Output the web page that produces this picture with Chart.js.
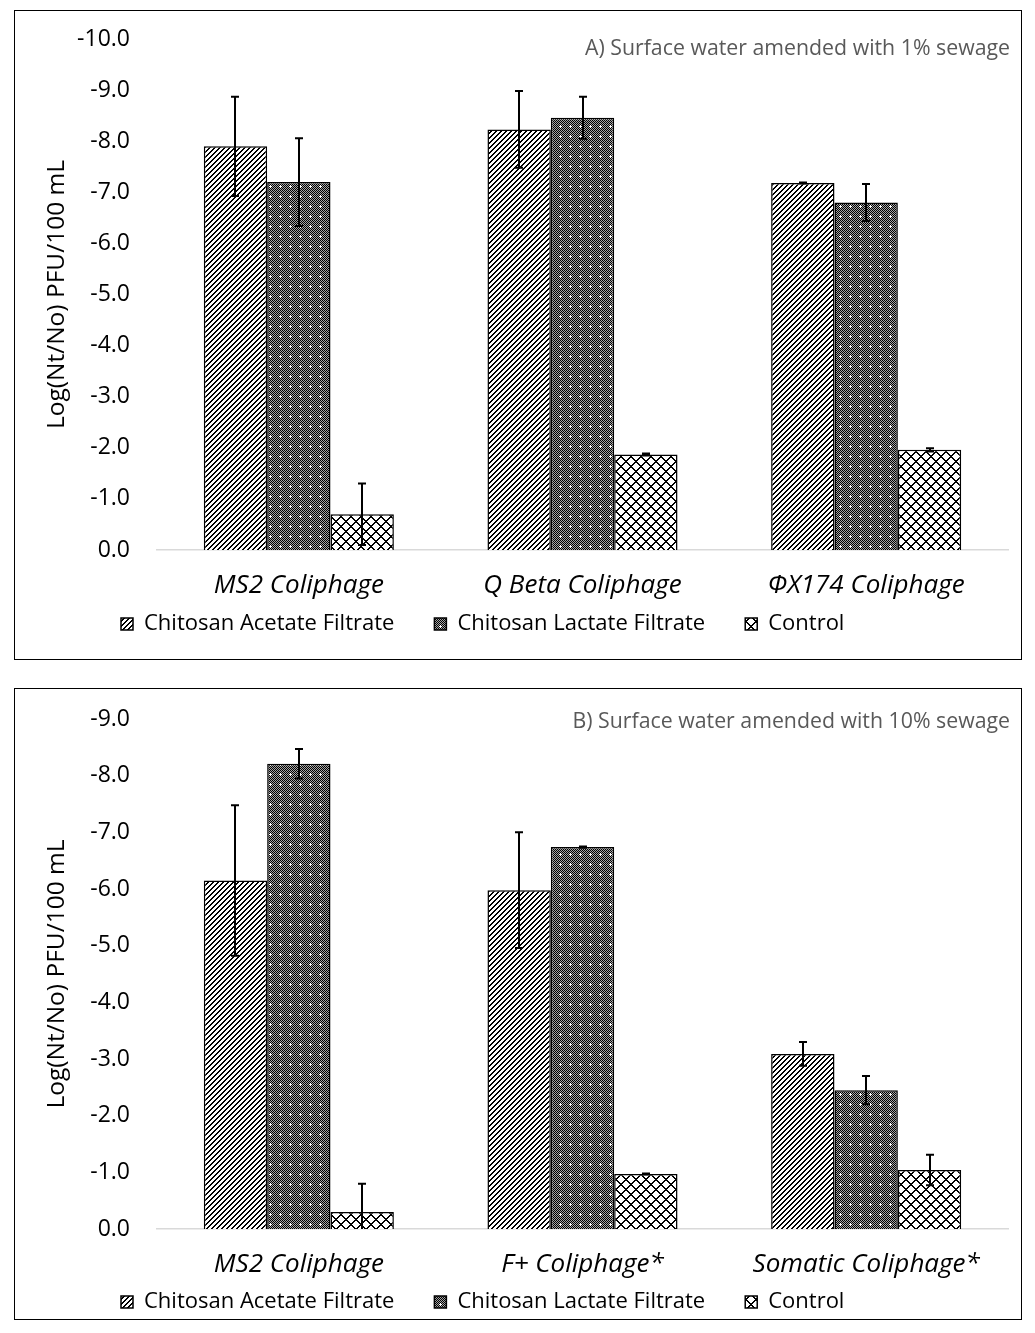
<!DOCTYPE html>
<html><head><meta charset="utf-8">
<script src="https://cdn.jsdelivr.net/npm/chart.js@4.4.0/dist/chart.umd.min.js"></script>
<style>
html,body{margin:0;padding:0;background:#fff;}
body{width:1035px;height:1333px;position:relative;overflow:hidden;font-family:"Open Sans",sans-serif;}
.box{position:absolute;left:14px;width:1008px;border:1px solid #000;box-sizing:border-box;background:#fff;}
#boxA{top:10px;height:650px;}
#boxB{top:688px;height:632px;}
.box canvas{position:absolute;left:0;top:0;}
.ttl{position:absolute;right:11px;font-size:21.3px;line-height:26px;color:#595959;white-space:nowrap;}
#tA{top:23px;}
#tB{top:18px;}
</style></head><body>
<div class="box" id="boxA"><canvas id="cA" width="1006" height="648"></canvas><div class="ttl" id="tA"></div></div>
<div class="box" id="boxB"><canvas id="cB" width="1006" height="630"></canvas><div class="ttl" id="tB"></div></div>
<script>
// ---------- data ----------
const seriesNames = ['Chitosan Acetate Filtrate', 'Chitosan Lactate Filtrate', 'Control'];
const yTitle = 'Log(Nt/No) PFU/100 mL';

const titleA = 'A) Surface water amended with 1% sewage';
const categoriesA = ['MS2 Coliphage', 'Q Beta Coliphage', 'ΦX174 Coliphage'];
const acetateA = [-7.90, -8.23, -7.18];
const acetateErrA = [0.97, 0.75, 0.01];
const lactateA = [-7.20, -8.46, -6.80];
const lactateErrA = [0.86, 0.41, 0.36];
const controlA = [-0.70, -1.87, -1.96];
const controlErrA = [0.60, 0.02, 0.03];
const yMinA = -10;

const titleB = 'B) Surface water amended with 10% sewage';
const categoriesB = ['MS2 Coliphage', 'F+ Coliphage*', 'Somatic Coliphage*'];
const acetateB = [-6.15, -5.98, -3.09];
const acetateErrB = [1.33, 1.02, 0.21];
const lactateB = [-8.21, -6.74, -2.45];
const lactateErrB = [0.26, 0.01, 0.25];
const controlB = [-0.30, -0.97, -1.04];
const controlErrB = [0.50, 0.01, 0.27];
const yMinB = -9;

// ---------- styling ----------
const FONT = '"Open Sans", sans-serif';
Chart.defaults.font.family = FONT;
Chart.defaults.color = '#000';

function makePattern(size, fn){
  const c = document.createElement('canvas'); c.width = size; c.height = size;
  const x = c.getContext('2d'); const img = x.createImageData(size, size);
  for (let j = 0; j < size; j++) for (let i = 0; i < size; i++) {
    const v = fn(i, j); const k = (j*size + i)*4;
    img.data[k] = img.data[k+1] = img.data[k+2] = v; img.data[k+3] = 255;
  }
  x.putImageData(img, 0, 0);
  return x.createPattern(c, 'repeat');
}
const patAcetate = makePattern(5, (i,j) => ((i + j) % 5 < 2) ? 0 : 255);
const patLactate = makePattern(10, (i,j) => {
  const plus = (i === 5 && j >= 4 && j <= 6) || (j === 5 && i >= 4 && i <= 6);
  if (plus) return 255;
  return ((i + j) % 2 === 0) ? 0 : 165;
});
const patControl = makePattern(10, (i,j) => {
  const d1 = ((i - j) % 10 + 10) % 10, d2 = (i + j) % 10;
  return (d1 < 2 || d2 < 2) ? 0 : 255;
});
const patterns = [patAcetate, patLactate, patControl];

const errorBarPlugin = {
  id: 'errorBars',
  afterDatasetsDraw(chart){
    const {ctx, chartArea, scales} = chart; const y = scales.y;
    ctx.save();
    ctx.beginPath();
    ctx.rect(chartArea.left, chartArea.top, chartArea.right - chartArea.left, chartArea.bottom - chartArea.top);
    ctx.clip();
    ctx.strokeStyle = '#000'; ctx.lineWidth = 2;
    chart.data.datasets.forEach((ds, i) => {
      const meta = chart.getDatasetMeta(i);
      if (meta.hidden) return;
      meta.data.forEach((bar, j) => {
        const v = ds.data[j], e = ds.errors[j];
        const y1 = y.getPixelForValue(v - e), y2 = y.getPixelForValue(v + e);
        const x = Math.round(bar.x);
        ctx.beginPath();
        ctx.moveTo(x, y1); ctx.lineTo(x, y2);
        ctx.moveTo(x - 4, y1); ctx.lineTo(x + 4, y1);
        ctx.moveTo(x - 4, y2); ctx.lineTo(x + 4, y2);
        ctx.stroke();
      });
    });
    ctx.restore();
  }
};

// fixes the legend's reserved height and places its first item
const legendPlace = {
  id: 'legendPlace',
  beforeLayout(chart, args, opts){
    const lg = chart.legend;
    if (lg && !lg.__patched){
      const origFit = lg.fit;
      lg.fit = function(){ origFit.call(this); this.height = opts.height; };
      lg.__patched = true;
    }
  },
  afterLayout(chart, args, opts){
    const lg = chart.legend; if (!lg) return;
    const p = lg.options.labels.padding;
    const dx = opts.boxX - (lg.left + p);
    lg.left += dx; lg.right += dx;
    lg.top = opts.centerY - opts.half - p;
    lg.bottom = lg.top + 2 * p + 2 * opts.half;
    lg.height = lg.bottom - lg.top;
  }
};

function makeChart(id, cats, values, errors, yMin, padTop, padBottom){
  const datasets = seriesNames.map((name, k) => ({
    label: name, data: values[k], errors: errors[k],
    backgroundColor: patterns[k], borderColor: '#000', borderWidth: 1.5,
    categoryPercentage: 0.67, barPercentage: 1.0
  }));
  return new Chart(document.getElementById(id), {
    type: 'bar',
    data: { labels: cats, datasets },
    options: {
      responsive: false, animation: false,
      layout: { padding: { left: 0, right: 13, top: padTop, bottom: padBottom } },
      plugins: {
        legend: { position: 'bottom', align: 'start',
          labels: { boxWidth: 12, boxHeight: 12, padding: 40, color: '#000', font: { family: FONT, size: 22 } } },
        tooltip: { enabled: false },
        legendPlace: { height: 20, boxX: 106, centerY: 613, half: 11 }
      },
      scales: {
        x: {
          grid: { display: true, drawOnChartArea: false, drawTicks: false },
          border: { display: true, color: '#d9d9d9', width: 1.5 },
          ticks: { color: '#000', padding: 20, font: { family: FONT, size: 26, style: 'italic' } },
          afterFit: s => { s.height = 58; }
        },
        y: {
          reverse: true, min: yMin, max: 0,
          afterFit: s => { s.width = 142; s.paddingTop = 0; s.paddingBottom = 0; },
          grid: { display: false, drawTicks: false },
          border: { display: false },
          ticks: { stepSize: 1, padding: 27, color: '#000', font: { family: FONT, size: 23 },
            callback: v => Number(v).toFixed(1) },
          title: { display: true, text: yTitle, color: '#000', font: { family: FONT, size: 24.5 },
            padding: { top: 27, bottom: 0 } }
        }
      }
    },
    plugins: [errorBarPlugin, legendPlace]
  });
}

document.getElementById('tA').textContent = titleA;
document.getElementById('tB').textContent = titleB;
makeChart('cA', categoriesA, [acetateA, lactateA, controlA], [acetateErrA, lactateErrA, controlErrA], yMinA, 28, 31);
makeChart('cB', categoriesB, [acetateB, lactateB, controlB], [acetateErrB, lactateErrB, controlErrB], yMinB, 30, 12);
</script>
</body></html>
